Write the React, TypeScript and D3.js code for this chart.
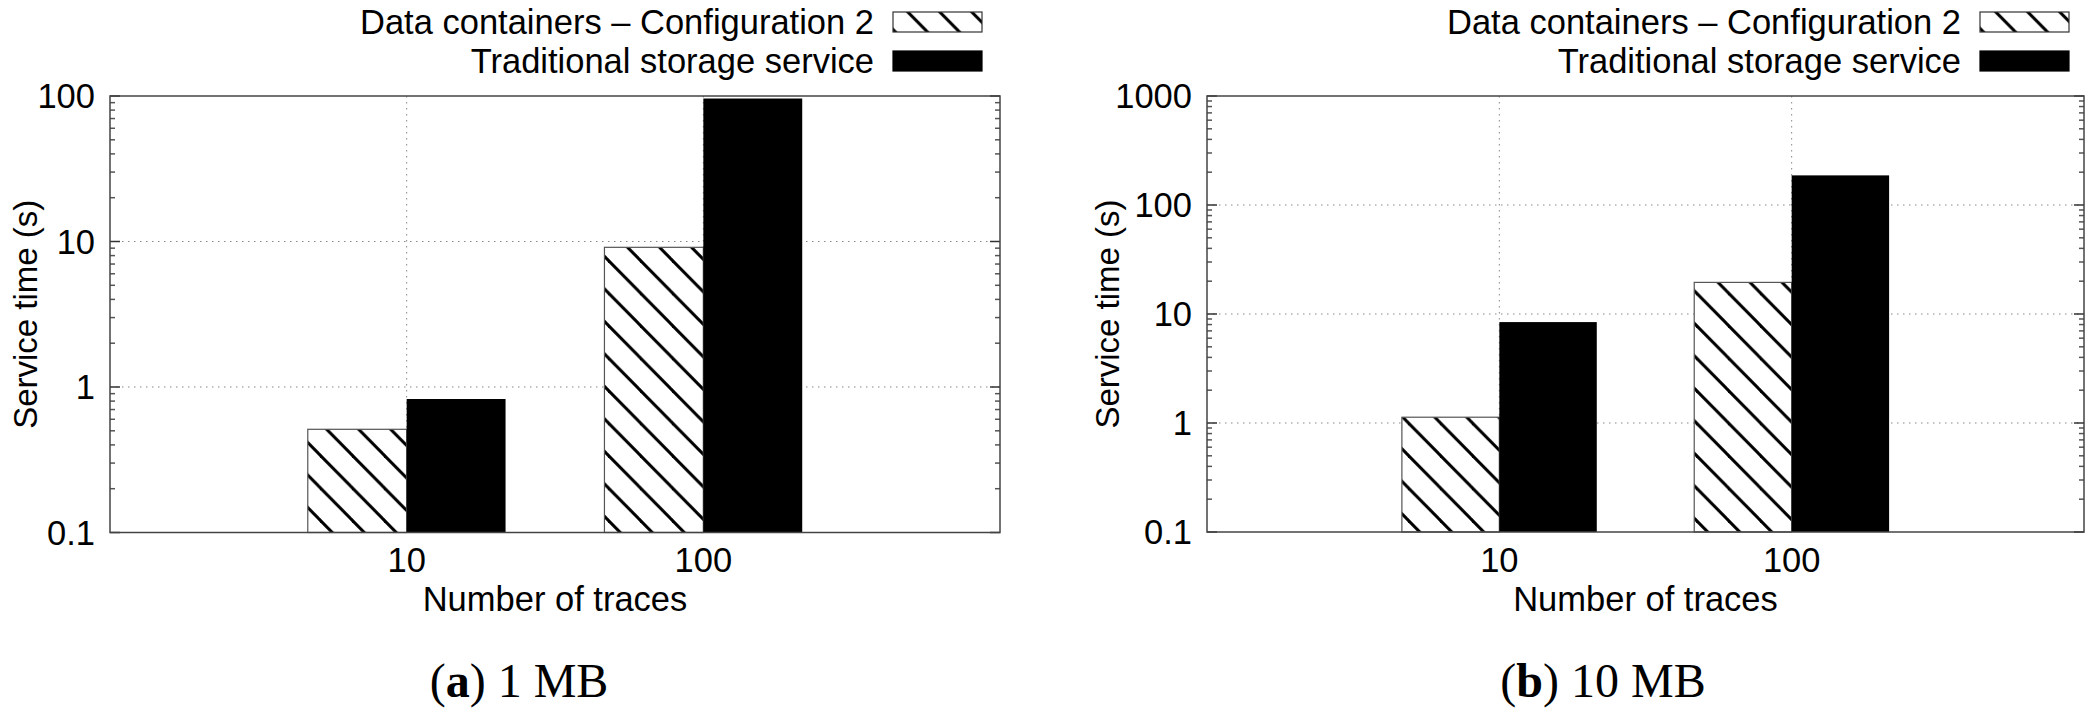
import React from "react";
import * as d3 from "d3";

const categories = ["10", "100"];
const seriesNames = ["Data containers – Configuration 2", "Traditional storage service"];
const panelA_containers = [0.512, 9.12];
const panelA_traditional = [0.827, 96.1];
const panelB_containers = [1.13, 19.5];
const panelB_traditional = [8.43, 187];
const panelA_yticks = [0.1, 1, 10, 100];
const panelB_yticks = [0.1, 1, 10, 100, 1000];
const yLabel = "Service time (s)";
const xLabel = "Number of traces";
const captionLetters = ["a", "b"];
const captionTexts = ["1 MB", "10 MB"];

const FONT = "'Liberation Sans', Arial, sans-serif";
const FS = 34.5;

type PanelProps = {
  left: number;
  right: number;
  top: number;
  bottom: number;
  containers: number[];
  traditional: number[];
  yticks: number[];
  legendRight: number;
  yLabelX: number;
  caption: [string, string];
  captionX: number;
};

function Panel(p: PanelProps) {
  const x = d3.scaleLinear().domain([-1, categories.length]).range([p.left, p.right]);
  const y = d3
    .scaleLog()
    .domain([p.yticks[0], p.yticks[p.yticks.length - 1]])
    .range([p.bottom, p.top]);
  const bw = 1 / 3;
  const minor: number[] = [];
  for (let i = 0; i < p.yticks.length - 1; i++) {
    for (let k = 2; k <= 9; k++) minor.push(p.yticks[i] * k);
  }
  const boxW = 89;
  const boxH = 20;
  const boxX = p.legendRight - boxW;
  const rows = [22, 61];
  return (
    <g>
      {/* grid */}
      {p.yticks.slice(1, -1).map((t) => (
        <line
          key={"gy" + t}
          x1={p.left}
          x2={p.right}
          y1={y(t)}
          y2={y(t)}
          stroke="#888"
          strokeWidth={1}
          strokeDasharray="1.5,4.5"
        />
      ))}
      {categories.map((c, i) => (
        <line
          key={"gx" + c}
          x1={x(i)}
          x2={x(i)}
          y1={p.top}
          y2={p.bottom}
          stroke="#888"
          strokeWidth={1}
          strokeDasharray="1.5,4.5"
        />
      ))}
      {/* bars */}
      {categories.map((c, i) => (
        <g key={"b" + c}>
          <rect
            x={x(i - bw)}
            y={y(p.containers[i])}
            width={x(i) - x(i - bw)}
            height={p.bottom - y(p.containers[i])}
            fill="url(#hatch)"
            stroke="#555"
            strokeWidth={1.2}
          />
          <rect
            x={x(i)}
            y={y(p.traditional[i])}
            width={x(i + bw) - x(i)}
            height={p.bottom - y(p.traditional[i])}
            fill="#000"
          />
        </g>
      ))}
      {/* ticks */}
      {p.yticks.map((t) => (
        <g key={"t" + t}>
          <line x1={p.left} x2={p.left + 10} y1={y(t)} y2={y(t)} stroke="#333" strokeWidth={1.5} />
          <line x1={p.right} x2={p.right - 10} y1={y(t)} y2={y(t)} stroke="#333" strokeWidth={1.5} />
          <text
            x={p.left - 15}
            y={y(t)}
            dy="0.35em"
            textAnchor="end"
            fontFamily={FONT}
            fontSize={FS}
            fill="#000"
          >
            {String(t)}
          </text>
        </g>
      ))}
      {minor.map((t) => (
        <g key={"m" + t}>
          <line x1={p.left} x2={p.left + 5} y1={y(t)} y2={y(t)} stroke="#555" strokeWidth={1.5} />
          <line x1={p.right} x2={p.right - 5} y1={y(t)} y2={y(t)} stroke="#555" strokeWidth={1.5} />
        </g>
      ))}
      {/* border */}
      <rect
        x={p.left}
        y={p.top}
        width={p.right - p.left}
        height={p.bottom - p.top}
        fill="none"
        stroke="#444"
        strokeWidth={1.5}
      />
      {/* x tick labels */}
      {categories.map((c, i) => (
        <text
          key={"xl" + c}
          x={x(i)}
          y={560}
          dy="0.35em"
          textAnchor="middle"
          fontFamily={FONT}
          fontSize={FS}
        >
          {c}
        </text>
      ))}
      <text
        x={(p.left + p.right) / 2}
        y={599}
        dy="0.35em"
        textAnchor="middle"
        fontFamily={FONT}
        fontSize={FS}
      >
        {xLabel}
      </text>
      <text
        transform={`translate(${p.yLabelX},${(p.top + p.bottom) / 2}) rotate(-90)`}
        dy="0.35em"
        textAnchor="middle"
        fontFamily={FONT}
        fontSize={33}
      >
        {yLabel}
      </text>
      {/* legend */}
      {seriesNames.map((s, i) => (
        <g key={"lg" + i}>
          <text
            x={boxX - 19}
            y={rows[i]}
            dy="0.35em"
            textAnchor="end"
            fontFamily={FONT}
            fontSize={FS}
          >
            {s}
          </text>
          <rect
            x={boxX}
            y={rows[i] - boxH / 2}
            width={boxW}
            height={boxH}
            fill={i === 0 ? "url(#hatch)" : "#000"}
            stroke={i === 0 ? "#333" : "#000"}
            strokeWidth={1.2}
          />
        </g>
      ))}
      {/* caption */}
      <text
        x={p.captionX}
        y={697}
        textAnchor="middle"
        fontFamily="'Liberation Serif', 'Times New Roman', serif"
        fontSize={48}
      >
        (<tspan fontWeight="bold">{p.caption[0]}</tspan>) {p.caption[1]}
      </text>
    </g>
  );
}

export default function App() {
  const tw = 32;
  const th = 32.5;
  return (
    <svg
      width={2100}
      height={716}
      style={{ position: "absolute", left: 0, top: 0, background: "#fff" }}
    >
      <defs>
        <pattern id="hatch" patternUnits="userSpaceOnUse" width={tw} height={th}>
          <rect width={tw} height={th} fill="#fff" />
          <line x1={-2} y1={(-2 * th) / tw} x2={tw + 2} y2={th + (2 * th) / tw} stroke="#000" strokeWidth={3} />
          <line x1={tw - 2} y1={(-2 * th) / tw} x2={2 * tw + 2} y2={th + (2 * th) / tw} stroke="#000" strokeWidth={3} />
          <line x1={-tw - 2} y1={(-2 * th) / tw} x2={2} y2={th + (2 * th) / tw} stroke="#000" strokeWidth={3} />
        </pattern>
      </defs>
      <rect width={2100} height={716} fill="#fff" />
      <Panel
        left={110}
        right={1000}
        top={96}
        bottom={532.5}
        containers={panelA_containers}
        traditional={panelA_traditional}
        yticks={panelA_yticks}
        legendRight={982}
        yLabelX={25}
        caption={[captionLetters[0], captionTexts[0]]}
        captionX={519}
      />
      <Panel
        left={1207}
        right={2084}
        top={96}
        bottom={532}
        containers={panelB_containers}
        traditional={panelB_traditional}
        yticks={panelB_yticks}
        legendRight={2069}
        yLabelX={1107}
        caption={[captionLetters[1], captionTexts[1]]}
        captionX={1603}
      />
    </svg>
  );
}
